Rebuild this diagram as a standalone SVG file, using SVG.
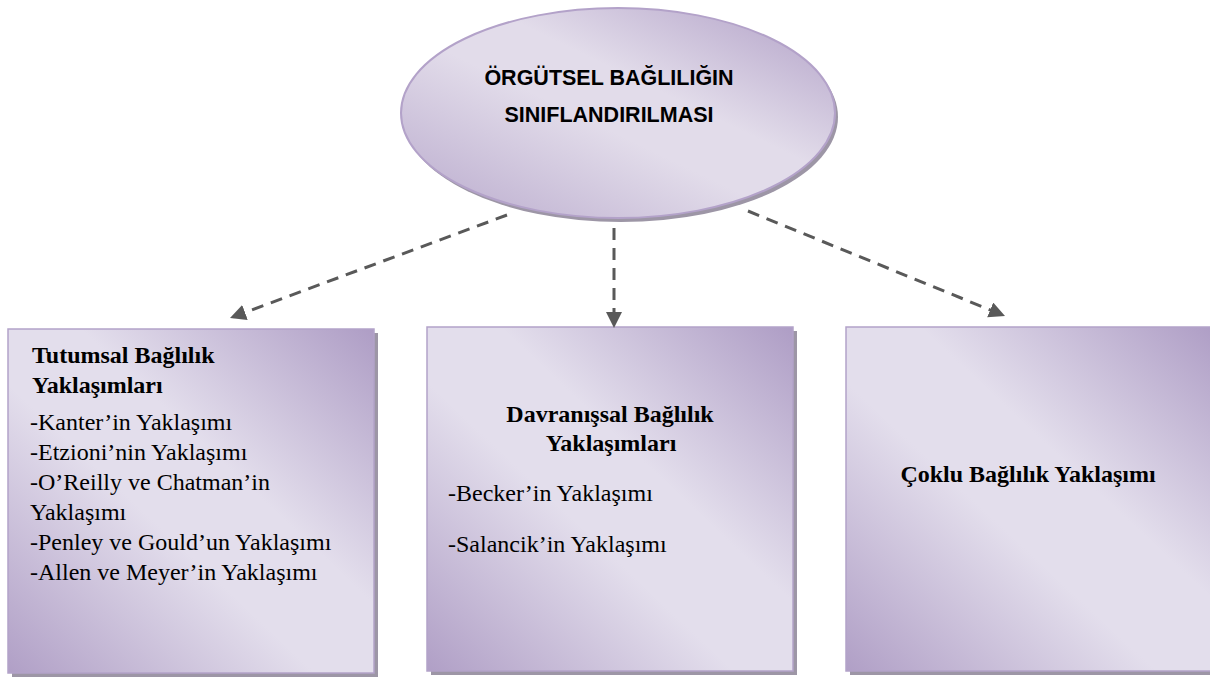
<svg xmlns="http://www.w3.org/2000/svg" width="1210" height="680" viewBox="0 0 1210 680">
  <style>
    .shadow { fill: #9d96a6; }
    .box { stroke: #b3a3c9; stroke-width: 1.5; }
    .head { font-family: "Liberation Serif", "Times New Roman", serif; font-weight: bold; font-size: 24px; fill: #000; }
    .item { font-family: "Liberation Serif", "Times New Roman", serif; font-size: 24px; fill: #000; }
    .title { font-family: "Liberation Sans", Arial, sans-serif; font-weight: bold; font-size: 21.5px; fill: #000; }
    .conn { stroke: #595959; stroke-width: 3; fill: none; stroke-dasharray: 12 8; }
  </style>
  <defs>
    <linearGradient id="grad" x1="0" y1="1" x2="1" y2="0">
      <stop offset="0" stop-color="#b09fc6"/>
      <stop offset="0.42" stop-color="#e3deec"/>
      <stop offset="0.6" stop-color="#e3deec"/>
      <stop offset="1" stop-color="#ae9dc5"/>
    </linearGradient>
    <linearGradient id="egrad" x1="0" y1="1" x2="1" y2="0">
      <stop offset="0" stop-color="#b8a9cc"/>
      <stop offset="0.45" stop-color="#e2dcea"/>
      <stop offset="0.6" stop-color="#e2dcea"/>
      <stop offset="1" stop-color="#b09fc6"/>
    </linearGradient>
    <marker id="arrow" markerUnits="userSpaceOnUse" markerWidth="17" markerHeight="17" refX="16" refY="8" orient="auto">
      <path d="M0,0 L16,8 L0,16 z" fill="#595959"/>
    </marker>
  </defs>

  <g id="node-root">
    <ellipse class="shadow" cx="621" cy="117" rx="217" ry="105" fill="#a298ae"/>
    <ellipse cx="618" cy="113" rx="217" ry="105" fill="url(#egrad)" stroke="#b3a2c9" stroke-width="2"/>
    <text class="title" x="609" y="85" text-anchor="middle">ÖRGÜTSEL BAĞLILIĞIN</text>
    <text class="title" x="609" y="122" text-anchor="middle">SINIFLANDIRILMASI</text>
  </g>

  <g id="node-tutumsal">
    <rect class="shadow" x="12" y="333" width="366" height="344"/>
    <rect class="box" x="8" y="329" width="366" height="344" fill="url(#grad)"/>
    <text class="head" x="32" y="363">Tutumsal Bağlılık</text>
    <text class="head" x="32" y="393">Yaklaşımları</text>
    <text class="item" x="30" y="430">-Kanter’in Yaklaşımı</text>
    <text class="item" x="30" y="460">-Etzioni’nin Yaklaşımı</text>
    <text class="item" x="30" y="490">-O’Reilly ve Chatman’in</text>
    <text class="item" x="30" y="520">Yaklaşımı</text>
    <text class="item" x="30" y="550">-Penley ve Gould’un Yaklaşımı</text>
    <text class="item" x="30" y="580">-Allen ve Meyer’in Yaklaşımı</text>
  </g>

  <g id="node-davranissal">
    <rect class="shadow" x="431" y="331" width="366" height="344"/>
    <rect class="box" x="427" y="327" width="366" height="344" fill="url(#grad)"/>
    <text class="head" x="610" y="422" text-anchor="middle">Davranışsal Bağlılık</text>
    <text class="head" x="611" y="451" text-anchor="middle">Yaklaşımları</text>
    <text class="item" x="448" y="501">-Becker’in Yaklaşımı</text>
    <text class="item" x="448" y="552">-Salancik’in Yaklaşımı</text>
  </g>

  <g id="node-coklu">
    <rect class="shadow" x="850" y="331" width="370" height="344"/>
    <rect class="box" x="846" y="327" width="370" height="344" fill="url(#grad)"/>
    <text class="head" x="1028" y="482" text-anchor="middle">Çoklu Bağlılık Yaklaşımı</text>
  </g>

  <g id="connectors">
    <line class="conn" x1="507" y1="215" x2="230" y2="318" marker-end="url(#arrow)"/>
    <line class="conn" x1="614" y1="228" x2="614" y2="328" marker-end="url(#arrow)"/>
    <line class="conn" x1="748" y1="211" x2="1005" y2="316" marker-end="url(#arrow)"/>
  </g>
</svg>
